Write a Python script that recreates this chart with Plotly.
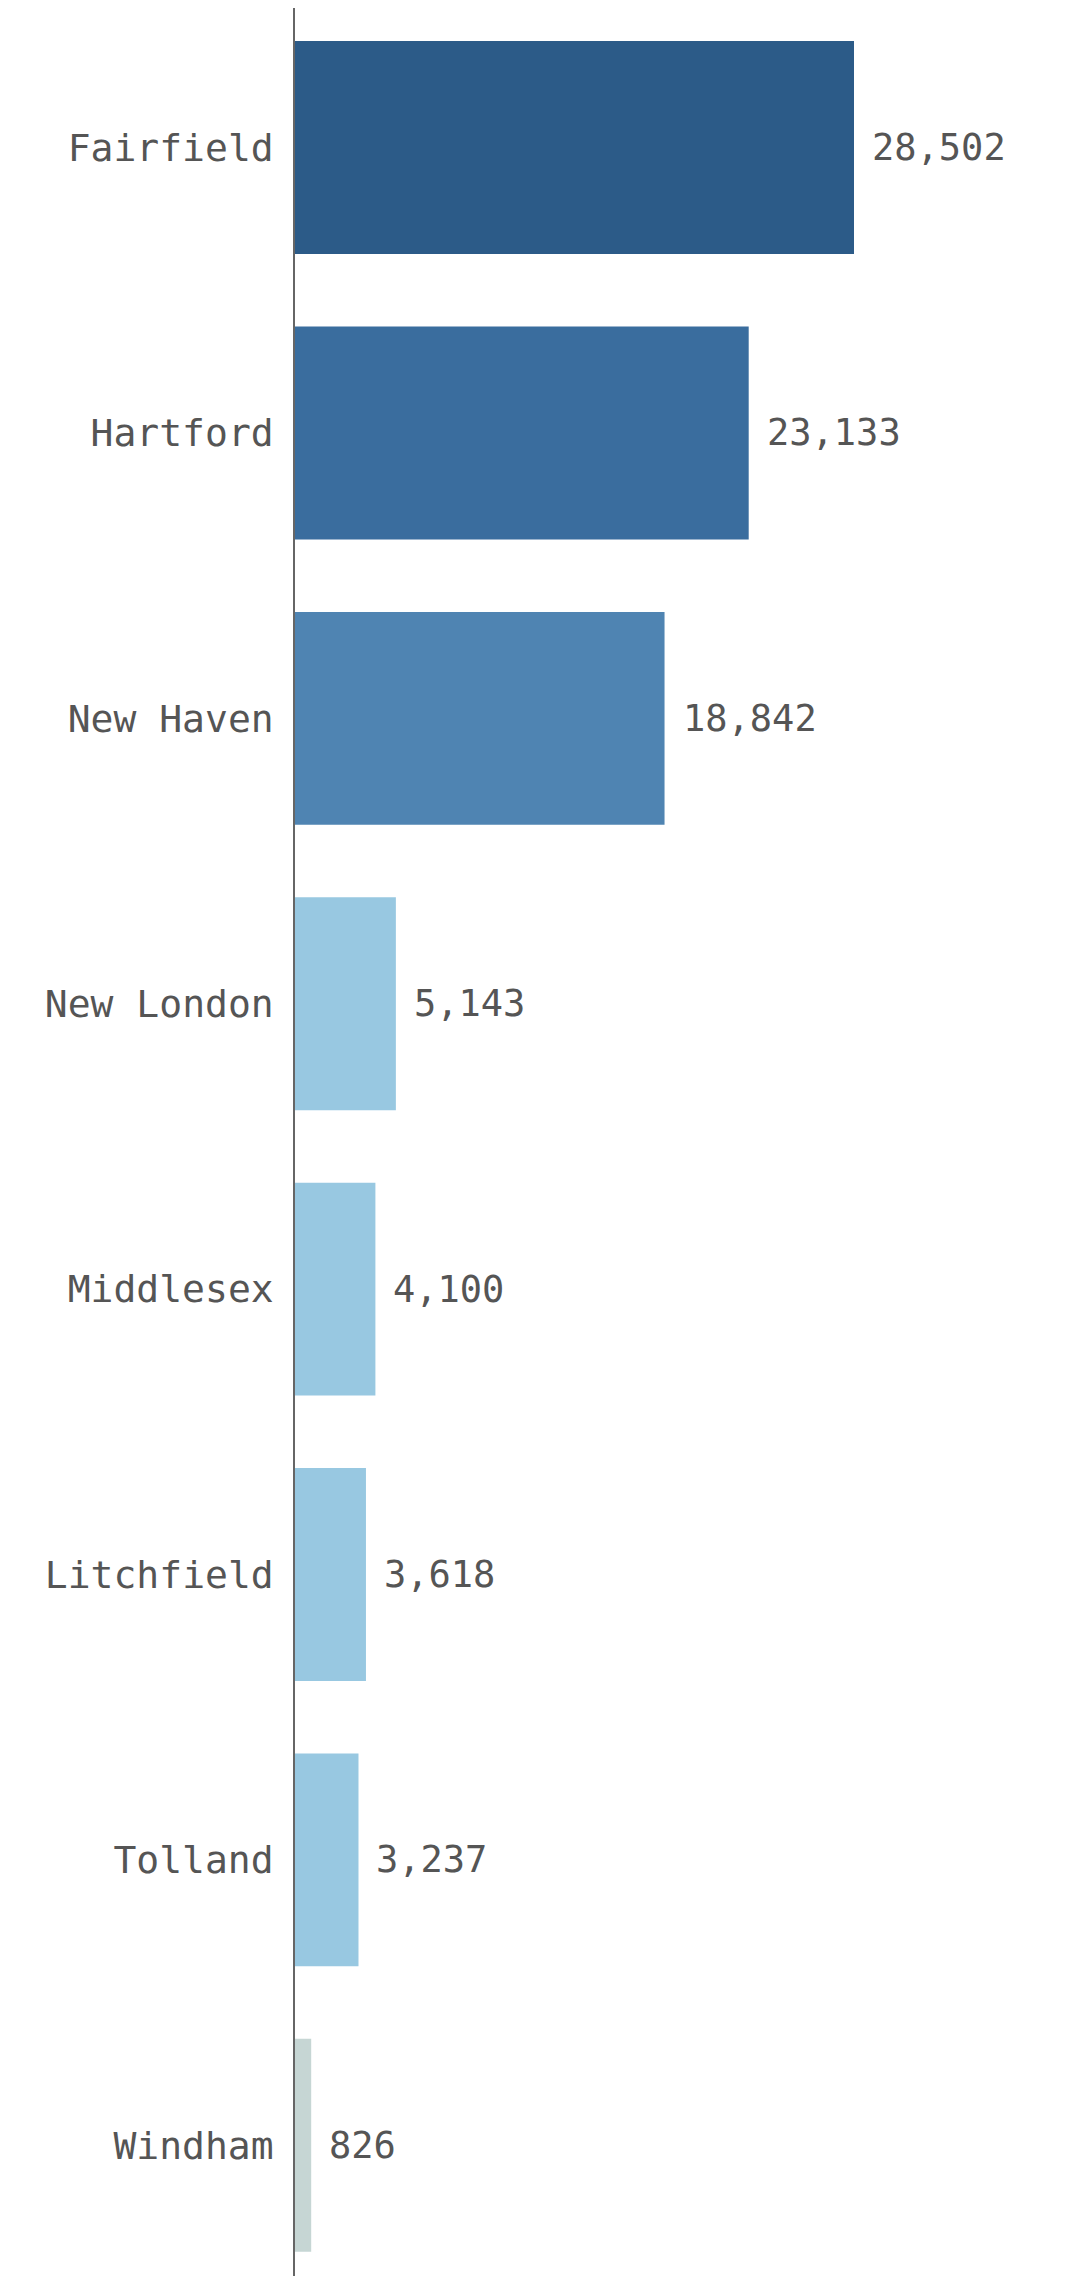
import plotly.graph_objects as go

counties = ["Fairfield", "Hartford", "New Haven", "New London", "Middlesex", "Litchfield", "Tolland", "Windham"]
values = [28502, 23133, 18842, 5143, 4100, 3618, 3237, 826]
bar_colors = ["#2c5b88", "#3a6d9e", "#4f84b2", "#98c8e1", "#98c8e1", "#98c8e1", "#98c8e1", "#c6d6d4"]

FONT = "DejaVu Sans Mono"
TXT = "#555555"

fig = go.Figure()
fig.add_trace(go.Bar(
    x=values, y=counties, orientation="h",
    marker=dict(color=bar_colors, line=dict(width=0)),
    hoverinfo="skip",
))

for c, v in zip(counties, values):
    fig.add_annotation(
        x=v, y=c, text=f"{v:,}", showarrow=False,
        xanchor="left", yanchor="middle", xshift=16,
        font=dict(family=FONT, size=37, color=TXT),
    )

fig.update_layout(
    width=1058, height=2268,
    margin=dict(l=287, r=0, t=0, b=0, pad=0),
    paper_bgcolor="white", plot_bgcolor="white",
    bargap=0.254,
    showlegend=False,
    xaxis=dict(range=[0, 39311], visible=False, fixedrange=True),
    yaxis=dict(
        type="category", range=[7.458, -0.489],
        showline=True, linecolor="#666666", linewidth=1.5,
        showgrid=False, zeroline=False, ticks="",
        ticklabelstandoff=12,
        tickfont=dict(family=FONT, size=38, color=TXT),
    ),
)

fig.write_html("out.html")
